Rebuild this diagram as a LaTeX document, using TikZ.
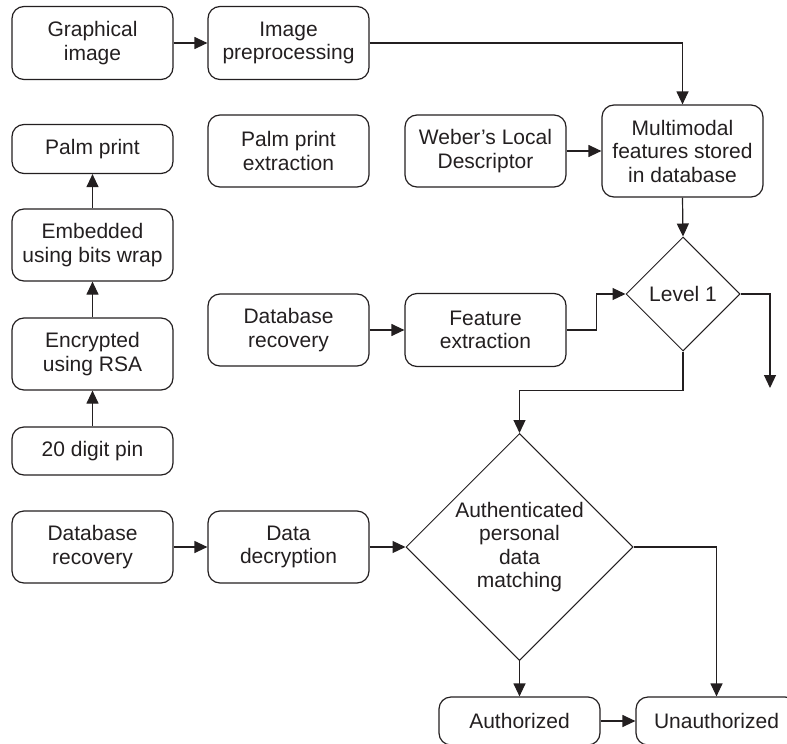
\documentclass[tikz,border=0pt]{standalone}
\usepackage{fontspec}
\setmainfont{Liberation Sans}
\usetikzlibrary{arrows.meta,shapes.geometric}
\definecolor{ink}{HTML}{231F20}
\begin{document}
\begin{tikzpicture}[x=1pt,y=-1pt,
  every node/.style={font=\fontsize{21}{23.5}\selectfont, text=ink, align=center},
  box/.style={draw=ink, line width=1.2pt, rounded corners=12pt, minimum width=161pt, inner sep=0pt},
  dec/.style={draw=ink, line width=1pt, diamond, aspect=1, inner sep=0pt},
  conn/.style={draw=ink, line width=1.2pt, -{Triangle[length=13pt,width=12pt]}},
  plain/.style={draw=ink, line width=1.2pt}]
\clip (0,0) rectangle (787,744);
\useasboundingbox (0,0) rectangle (787,744);
% left column
\node[box, minimum height=73pt] (gi) at (92.5,43) {Graphical\\image};
\node[box, minimum height=49pt] (pp) at (92.5,149) {Palm print};
\node[box, minimum height=72pt] (emb) at (92.5,245) {Embedded\\using bits wrap};
\node[box, minimum height=72pt] (enc) at (92.5,354) {Encrypted\\using RSA};
\node[box, minimum height=48pt] (pin) at (92.5,451) {20 digit pin};
\node[box, minimum height=72pt] (dr2) at (92.5,547) {Database\\recovery};
% second column
\node[box, minimum height=73pt] (ip) at (288.5,43) {Image\\preprocessing};
\node[box, minimum height=72pt] (ppe) at (288.5,151) {Palm print\\extraction};
\node[box, minimum height=72pt] (dr1) at (288.5,330) {Database\\recovery};
\node[box, minimum height=72pt] (dd) at (288.5,547) {Data\\decryption};
% third column
\node[box, minimum height=72pt] (wld) at (485.5,151) {Weber’s Local\\Descriptor};
\node[box, minimum height=73pt] (fe) at (485.5,330) {Feature\\extraction};
% right
\node[box, minimum height=92pt] (mm) at (682.5,151) {Multimodal\\features stored\\in database};
\node[dec, minimum width=114pt, minimum height=114pt] (l1) at (683,294) {Level 1};
\node[dec, minimum width=227pt, minimum height=227pt] (adm) at (519.5,547) {Authenticated\\personal\\data\\matching};
\node[box, minimum height=48pt] (au) at (519.5,721) {Authorized};
\node[box, minimum height=48pt] (un) at (716.5,721) {Unauthorized};
\coordinate (l1out) at (770,388);
% connectors
\draw[conn] (gi.east) -- (ip.west);
\draw[conn] (ip.east) -| (mm.north);
\draw[conn] (wld.east) -- (mm.west);
\draw[conn] (mm.south) -- (l1.north);
\draw[conn] (fe.east) -- ++(30,0) |- (l1.west);
\draw[conn] (l1.east) -| (l1out);
\draw[conn] (l1.south) -- ++(0,39) -| (adm.north);
\draw[conn] (pin.north) -- (enc.south);
\draw[conn] (enc.north) -- (emb.south);
\draw[conn] (emb.north) -- (pp.south);
\draw[conn] (dr1.east) -- (fe.west);
\draw[conn] (dr2.east) -- (dd.west);
\draw[conn] (dd.east) -- (adm.west);
\draw[conn] (adm.east) -| (un.north);
\draw[conn] (adm.south) -- (au.north);
\draw[conn] (au.east) -- (un.west);
\end{tikzpicture}
\end{document}
